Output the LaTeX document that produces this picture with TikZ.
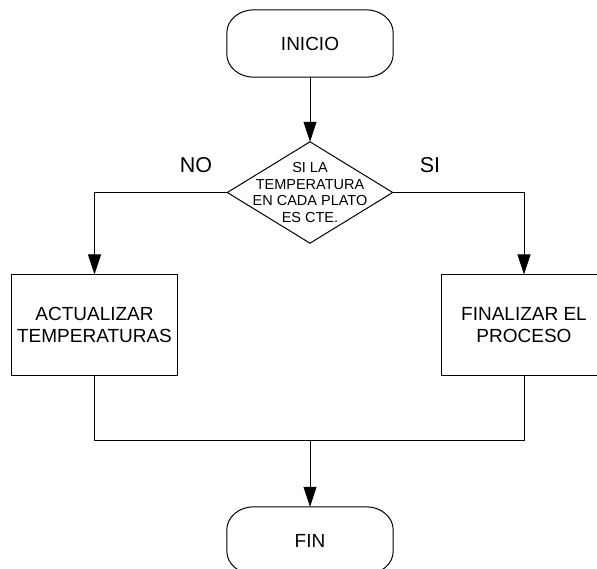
\documentclass[tikz,border=0pt]{standalone}
\usepackage{fontspec}
\setmainfont{Liberation Sans}
\usetikzlibrary{arrows.meta,calc}

% outline of a terminal (start/end) symbol around a plain rectangular node
\newcommand\termoutline[1]{%
  \draw[flowline]
    ($(#1.north west)+(27,0)$) -- ($(#1.north east)+(-27,0)$)
    .. controls ($(#1.north east)+(-12.1,0)$) and ($(#1.north east)+(0,10.3)$) .. ($(#1.north east)+(0,23)$)
    -- ($(#1.south east)+(0,-23)$)
    .. controls ($(#1.south east)+(0,-10.3)$) and ($(#1.south east)+(-12.1,0)$) .. ($(#1.south east)+(-27,0)$)
    -- ($(#1.south west)+(27,0)$)
    .. controls ($(#1.south west)+(12.1,0)$) and ($(#1.south west)+(0,-10.3)$) .. ($(#1.south west)+(0,-23)$)
    -- ($(#1.north west)+(0,23)$)
    .. controls ($(#1.north west)+(0,10.3)$) and ($(#1.north west)+(12.1,0)$) .. cycle;}

\tikzset{
  flowline/.style={line width=1pt, draw=black},
  flowarrow/.style={flowline, -{Triangle[length=20pt,width=13pt]}},
  termnode/.style={inner sep=0pt, minimum width=166pt, minimum height=67pt,
    font=\fontsize{19}{22.5}\selectfont},
  procbox/.style={draw=black, line width=1pt, inner sep=0pt, minimum width=166pt,
    minimum height=100pt, align=center, font=\fontsize{19}{22.5}\selectfont},
  decnode/.style={inner sep=0pt, minimum width=165pt, minimum height=101pt,
    align=center, font=\fontsize{14.5}{16.4}\selectfont},
  branchlabel/.style={inner sep=0pt, font=\fontsize{21.5}{24}\selectfont}
}

\begin{document}
\begin{tikzpicture}[x=1pt, y=-1pt]
  \path[use as bounding box, clip] (0,0) rectangle (597,569);

  % terminals
  \node[termnode] (ini) at (310,43.5) {INICIO};
  \termoutline{ini}
  \node[termnode] (endn) at (310,540.5) {FIN};
  \termoutline{endn}

  % decision
  \node[decnode] (dec) at (310,192.5) {SI LA\\TEMPERATURA\\EN CADA PLATO\\ES CTE.};
  \draw[flowline] (dec.north) -- (dec.east) -- (dec.south) -- (dec.west) -- cycle;

  % branch labels
  \node[branchlabel] (no) at (196,165.5) {NO};
  \node[branchlabel] (si) at (430,165.5) {SI};

  % process boxes
  \node[procbox] (act) at (94.5,325) {ACTUALIZAR\\TEMPERATURAS};
  \node[procbox] (fin) at (524,325) {FINALIZAR EL\\PROCESO};

  % junction above the end symbol
  \coordinate (j) at (310,440);

  % connectors
  \draw[flowarrow] (ini.south) -- (dec.north);
  \draw[flowarrow] (dec.west) -| (act.north);
  \draw[flowarrow] (dec.east) -| (fin.north);
  \draw[flowline] (act.south) -- (act.south |- j) -- (fin.south |- j) -- (fin.south);
  \draw[flowarrow] (j) -- (endn.north);
\end{tikzpicture}
\end{document}
